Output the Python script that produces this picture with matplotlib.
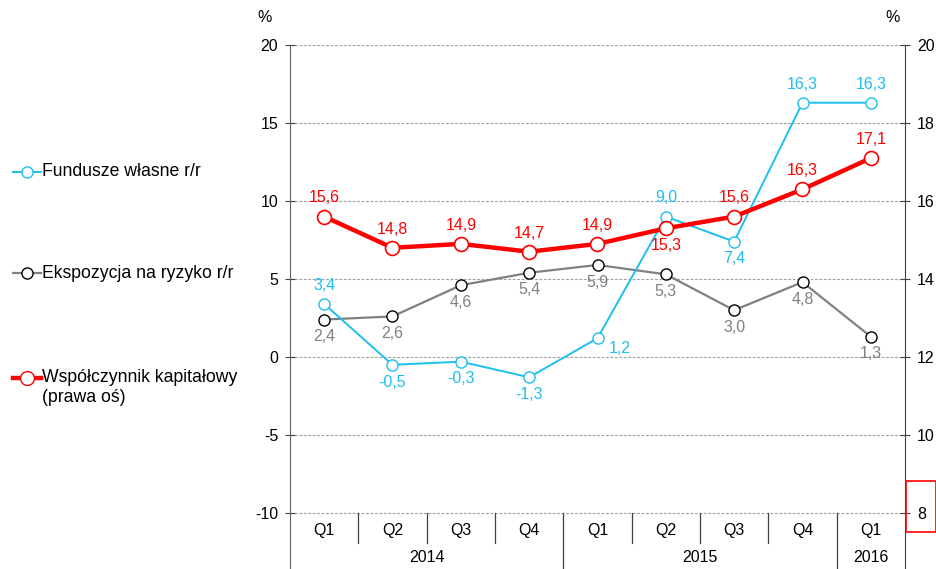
import numpy as np
import matplotlib
matplotlib.use('Agg')
import matplotlib.pyplot as plt
from matplotlib.lines import Line2D
from matplotlib.patches import Rectangle

plt.rcParams['font.family'] = ['Liberation Sans', 'DejaVu Sans']
plt.rcParams['axes.unicode_minus'] = False

# data
quarters = ['Q1', 'Q2', 'Q3', 'Q4', 'Q1', 'Q2', 'Q3', 'Q4', 'Q1']
years = ['2014', '2015', '2016']
year_span = [(0, 3), (4, 7), (8, 8)]
fundusze = [3.4, -0.5, -0.3, -1.3, 1.2, 9.0, 7.4, 16.3, 16.3]
ekspozycja = [2.4, 2.6, 4.6, 5.4, 5.9, 5.3, 3.0, 4.8, 1.3]
wspolczynnik = [15.6, 14.8, 14.9, 14.7, 14.9, 15.3, 15.6, 16.3, 17.1]
fund_pos = ['up', 'down', 'down', 'down', 'right', 'up', 'down', 'up', 'up']
wsp_pos = ['up', 'up', 'up', 'up', 'up', 'down', 'up', 'up', 'up']

BLUE = '#1EBEF0'
GRAY = '#808080'
RED = '#FF0000'
FS = 11.5

W, H = 937, 569
fig = plt.figure(figsize=(W / 100, H / 100), dpi=100)

# axis geometry (pixels of reference)
x0, x1, ytop, yzero = 290, 905, 45, 357
ppu = (yzero - ytop) / 20.0
ylo = -(H - yzero) / ppu
ax = fig.add_axes([x0 / W, 0, (x1 - x0) / W, (H - ytop) / H])
ax.set_ylim(ylo, 20)
ax.set_xlim(-0.5, 8.5)
ax.set_yticks(np.arange(-10, 21, 5))
ax.set_xticks([])
for v in np.arange(-10, 21, 5):
    ax.axhline(v, color='#A0A0A0', lw=0.8, ls=(0, (2.5, 1.5)), zorder=0)
ax.spines['top'].set_visible(False)
ax.spines['bottom'].set_visible(False)
ax.spines['right'].set_visible(False)
ax.spines['left'].set_color('#606060')
ax.tick_params(axis='y', direction='inout', length=7, labelsize=FS, pad=5,
               color='#404040')

ax2 = ax.twinx()
ax2.set_ylim(12 + 0.4 * ylo, 20)
ax2.set_yticks(np.arange(8, 21, 2))
for s in ['top', 'bottom', 'left']:
    ax2.spines[s].set_visible(False)
ax2.spines['right'].set_color('#404040')
ax2.tick_params(axis='y', direction='inout', length=7, labelsize=FS, pad=5,
                color='#404040')

x = np.arange(len(quarters))
ax.plot(x, ekspozycja, color=GRAY, lw=1.6, marker='o', ms=8, mfc='white',
        mec='black', mew=1.0, zorder=3)
ax.plot(x, fundusze, color=BLUE, lw=1.4, marker='o', ms=8, mfc='white',
        mec=BLUE, mew=1.0, zorder=4)
ax2.plot(x, wspolczynnik, color=RED, lw=3.2, marker='o', ms=10, mfc='white',
         mec=RED, mew=1.2, zorder=3)

def lab(a, xi, yi, txt, pos, col):
    if pos == 'up':
        off, va, ha = (0, 8), 'bottom', 'center'
    elif pos == 'down':
        off, va, ha = (0, -7), 'top', 'center'
    else:
        off, va, ha = (8, -7), 'center', 'left'
    a.annotate(txt, (xi, yi), xytext=off, textcoords='offset points',
               ha=ha, va=va, color=col, fontsize=FS, zorder=6)

for i in range(len(x)):
    lab(ax, x[i], ekspozycja[i], f'{ekspozycja[i]:.1f}'.replace('.', ','), 'down', GRAY)
    lab(ax, x[i], fundusze[i], f'{fundusze[i]:.1f}'.replace('.', ','), fund_pos[i], BLUE)
    lab(ax2, x[i], wspolczynnik[i], f'{wspolczynnik[i]:.1f}'.replace('.', ','), wsp_pos[i], RED)

# category table
row1 = -10 - 30 / ppu
for b in np.arange(0.5, 8, 1):
    bottom = ylo if b in (3.5, 7.5) else row1
    ax.plot([b, b], [-10, bottom], color='#404040', lw=0.9, clip_on=False, zorder=2)
for i, q in enumerate(quarters):
    ax.text(i, -10 - 17 / ppu, q, ha='center', va='center', fontsize=FS)
for yr, (a, b) in zip(years, year_span):
    ax.text((a + b) / 2, -10 - 45 / ppu, yr, ha='center', va='center', fontsize=FS)

fig.text(265 / W, 1 - 18 / H, '%', ha='center', va='center', fontsize=FS)
fig.text(893 / W, 1 - 18 / H, '%', ha='center', va='center', fontsize=FS)

# legend
leg = [(172, BLUE, 1.4, BLUE, 8, 'Fundusze własne r/r'),
       (273, GRAY, 1.6, 'black', 8, 'Ekspozycja na ryzyko r/r'),
       (378, RED, 3.2, RED, 10, 'Współczynnik kapitałowy')]
for yy, c, lw, mec, ms, t in leg:
    fig.add_artist(Line2D([13 / W, 41 / W], [1 - yy / H] * 2, color=c, lw=lw))
    fig.add_artist(Line2D([27 / W], [1 - yy / H], marker='o', ms=ms, mfc='white',
                          mec=mec, mew=1.0, lw=0))
    fig.text(42 / W, 1 - yy / H, t, ha='left', va='center', fontsize=12.7)
fig.text(42 / W, 1 - 398 / H, '(prawa oś)', ha='left', va='center', fontsize=12.7)

fig.add_artist(Rectangle((906 / W, 1 - 532 / H), 30 / W, 51 / H, fill=False,
                         ec=RED, lw=1.2, transform=fig.transFigure))

fig.savefig('out.png', dpi=100)
